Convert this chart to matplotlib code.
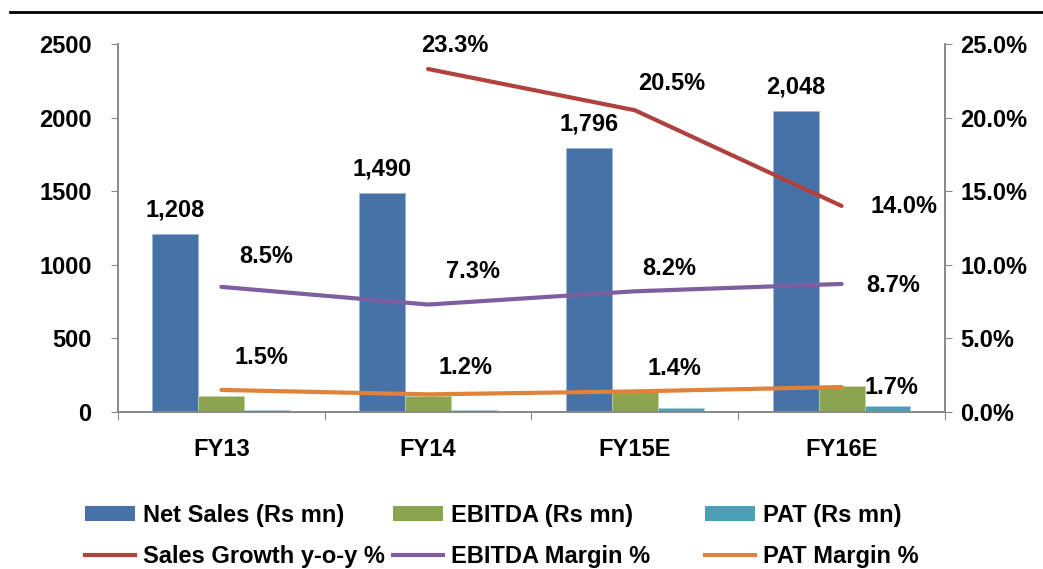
import matplotlib
matplotlib.use("Agg")
import matplotlib.pyplot as plt
from matplotlib.lines import Line2D
from matplotlib.patches import Patch
import numpy as np

categories = ["FY13", "FY14", "FY15E", "FY16E"]
net_sales = [1208, 1490, 1796, 2048]
ebitda = [108, 109, 140, 178]
pat = [16, 16, 27, 40]
sales_growth = [np.nan, 23.3, 20.5, 14.0]
ebitda_margin = [8.5, 7.3, 8.2, 8.7]
pat_margin = [1.5, 1.2, 1.4, 1.7]
left_ticks = [0, 500, 1000, 1500, 2000, 2500]
right_ticks = [0, 5, 10, 15, 20, 25]

C_BLUE = "#4672A8"
C_GREEN = "#8BA54E"
C_TEAL = "#4B9FB6"
C_RED = "#B0413E"
C_PURPLE = "#7D5FA0"
C_ORANGE = "#E0823A"

FONT = "Liberation Sans"
FS = 17
plt.rcParams["font.family"] = [FONT, "DejaVu Sans"]
plt.rcParams["font.weight"] = "bold"

fig = plt.figure(figsize=(10.43, 5.69), dpi=100)
ax = fig.add_axes([0.1131, 0.2759, 0.7929, 0.6468])
ax2 = ax.twinx()

x = np.arange(len(categories))
w = 0.222
ax.bar(x - w, net_sales, w, color=C_BLUE, edgecolor="#9DB3D3", linewidth=0.5, zorder=2)
ax.bar(x, ebitda, w, color=C_GREEN, edgecolor="#C5D4A8", linewidth=0.5, zorder=2)
ax.bar(x + w, pat, w, color=C_TEAL, edgecolor="#A6CFDA", linewidth=0.5, zorder=2)

ax.set_xlim(-0.5, len(categories) - 0.5)
ax.set_ylim(0, 2500)
ax.set_yticks(left_ticks)
ax.set_yticklabels([str(v) for v in left_ticks], fontsize=FS, fontweight="bold")
ax.set_xticks(np.arange(-0.5, len(categories), 1.0))
ax.set_xticklabels([])
ax.set_xticks(x, minor=True)
ax.set_xticklabels(categories, minor=True, fontsize=FS, fontweight="bold")
ax.tick_params(axis="x", which="minor", length=0, pad=19)
ax.tick_params(axis="x", which="major", length=6, color="#888888", direction="out")
ax.tick_params(axis="y", length=5, color="#888888", direction="out", pad=14)

for a in (ax, ax2):
    a.spines["top"].set_visible(False)
    for s in ("left", "right", "bottom"):
        a.spines[s].set_color("#888888")
        a.spines[s].set_linewidth(1.2)

ax2.set_ylim(0, 25)
ax2.set_yticks(right_ticks)
ax2.set_yticklabels([f"{v:.1f}%" for v in right_ticks], fontsize=FS, fontweight="bold")
ax2.tick_params(axis="y", length=5, color="#888888", direction="out", pad=6)

ax2.plot(x, sales_growth, color=C_RED, lw=3.0, solid_capstyle="round", zorder=3)
ax2.plot(x, ebitda_margin, color=C_PURPLE, lw=3.0, solid_capstyle="round", zorder=3)
ax2.plot(x, pat_margin, color=C_ORANGE, lw=3.0, solid_capstyle="round", zorder=3)

lab_kw = dict(textcoords="offset pixels", ha="center", va="center",
              fontsize=FS, fontweight="bold", color="black")
for i, v in enumerate(net_sales):
    ax.annotate(f"{v:,}", xy=(x[i] - w, v), xytext=(0, 24), **lab_kw)

sg_off = [None, (27, 24), (37, 27), (62, -1)]
em_off = [(45, 30), (45, 33), (34, 23), (52, -2)]
pm_off = [(40, 32), (37, 27), (40, 23), (50, -1)]
for i in range(len(categories)):
    if sg_off[i] is not None and not np.isnan(sales_growth[i]):
        ax2.annotate(f"{sales_growth[i]:.1f}%", xy=(x[i], sales_growth[i]), xytext=sg_off[i], **lab_kw)
    ax2.annotate(f"{ebitda_margin[i]:.1f}%", xy=(x[i], ebitda_margin[i]), xytext=em_off[i], **lab_kw)
    ax2.annotate(f"{pat_margin[i]:.1f}%", xy=(x[i], pat_margin[i]), xytext=pm_off[i], **lab_kw)

columns = [
    [Patch(facecolor=C_BLUE, label="Net Sales (Rs mn)"),
     Line2D([], [], color=C_RED, lw=3, label="Sales Growth y-o-y %")],
    [Patch(facecolor=C_GREEN, label="EBITDA (Rs mn)"),
     Line2D([], [], color=C_PURPLE, lw=3, label="EBITDA Margin %")],
    [Patch(facecolor=C_TEAL, label="PAT (Rs mn)"),
     Line2D([], [], color=C_ORANGE, lw=3, label="PAT Margin %")],
]
col_x_px = [85, 393, 705]
for hs, xp in zip(columns, col_x_px):
    fig.legend(handles=hs, ncol=1, loc="center left", bbox_to_anchor=(xp / 1043, 0.058),
               frameon=False, prop={"family": [FONT, "DejaVu Sans"], "weight": "bold", "size": FS},
               handlelength=2.1, handleheight=0.6, handletextpad=0.35,
               labelspacing=0.75, borderpad=0, borderaxespad=0)

fig.add_artist(Line2D([0.01, 1.0], [0.979, 0.979], color="black", lw=2, transform=fig.transFigure))

fig.savefig("out.png", dpi=100, facecolor="white")
